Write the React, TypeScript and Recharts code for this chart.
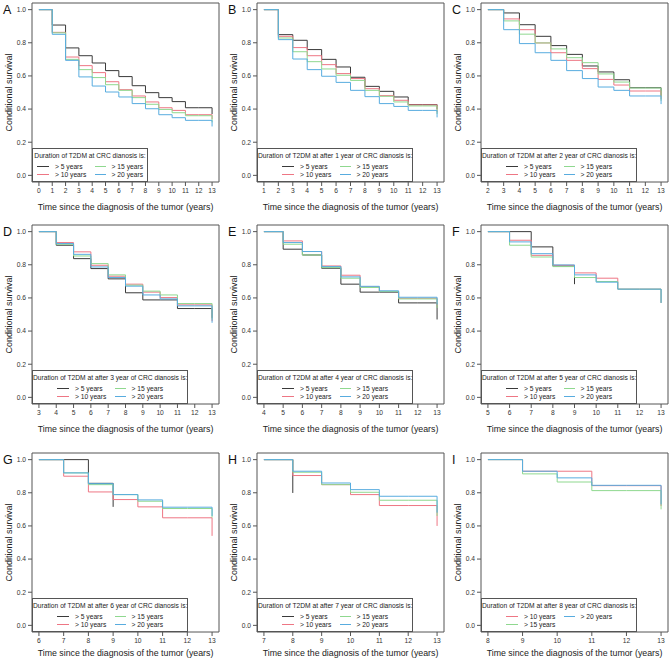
import React from 'react';
import { LineChart, Line, XAxis, YAxis, ReferenceArea } from 'recharts';

// panel layout: 3 x 3 grid of conditional survival curves
const panelLetters = ['A', 'B', 'C', 'D', 'E', 'F', 'G', 'H', 'I'];
const startYears = [0, 1, 2, 3, 4, 5, 6, 7, 8];
const lastYear = 13;
const yTicks = [0, 0.2, 0.4, 0.6, 0.8, 1.0];
const groupLabels = ['> 5 years', '> 10 years', '> 15 years', '> 20 years'];
const groupColors = ['#3a3a3a', '#ee7684', '#8fd88f', '#58acdf'];

// one row per group (>5, >10, >15, >20), one value per year from the panel start to 13
const survA = [
  [1, 0.907, 0.769, 0.722, 0.678, 0.632, 0.596, 0.541, 0.499, 0.469, 0.445, 0.408, 0.408, 0.37],
  [1, 0.863, 0.714, 0.662, 0.62, 0.565, 0.517, 0.479, 0.443, 0.408, 0.392, 0.366, 0.366, 0.34],
  [1, 0.86, 0.7, 0.638, 0.59, 0.547, 0.513, 0.469, 0.429, 0.398, 0.378, 0.36, 0.36, 0.32],
  [1, 0.851, 0.694, 0.594, 0.539, 0.503, 0.473, 0.433, 0.402, 0.366, 0.348, 0.332, 0.332, 0.295],
];
const survB = [
  [1, 0.849, 0.815, 0.759, 0.7, 0.654, 0.592, 0.537, 0.507, 0.473, 0.427, 0.427, 0.4],
  [1, 0.839, 0.771, 0.722, 0.668, 0.614, 0.584, 0.523, 0.481, 0.453, 0.425, 0.425, 0.38],
  [1, 0.829, 0.746, 0.686, 0.642, 0.604, 0.573, 0.513, 0.477, 0.443, 0.419, 0.419, 0.37],
  [1, 0.819, 0.702, 0.638, 0.598, 0.561, 0.513, 0.475, 0.433, 0.416, 0.392, 0.392, 0.35],
];
const survC = [
  [1, 0.98, 0.909, 0.839, 0.783, 0.73, 0.66, 0.624, 0.577, 0.529, 0.529, 0.48],
  [1, 0.944, 0.879, 0.799, 0.74, 0.694, 0.644, 0.579, 0.545, 0.509, 0.509, 0.46],
  [1, 0.932, 0.852, 0.799, 0.763, 0.71, 0.68, 0.612, 0.563, 0.527, 0.527, 0.45],
  [1, 0.879, 0.795, 0.74, 0.694, 0.632, 0.584, 0.533, 0.513, 0.479, 0.479, 0.43],
];
const survD = [
  [1, 0.918, 0.837, 0.777, 0.715, 0.631, 0.588, 0.588, 0.536, 0.536, 0.48],
  [1, 0.934, 0.878, 0.797, 0.731, 0.683, 0.635, 0.602, 0.558, 0.558, 0.46],
  [1, 0.924, 0.853, 0.807, 0.739, 0.677, 0.641, 0.618, 0.566, 0.566, 0.47],
  [1, 0.928, 0.863, 0.787, 0.723, 0.671, 0.618, 0.594, 0.552, 0.552, 0.45],
];
const survE = [
  [1, 0.894, 0.859, 0.779, 0.683, 0.635, 0.635, 0.57, 0.57, 0.47],
  [1, 0.944, 0.88, 0.793, 0.737, 0.667, 0.639, 0.598, 0.598, 0.55],
  [1, 0.924, 0.859, 0.783, 0.719, 0.663, 0.639, 0.594, 0.594, 0.54],
  [1, 0.934, 0.88, 0.789, 0.727, 0.67, 0.643, 0.604, 0.604, 0.56],
];
const survF = [
  [1, 1, 0.908, 0.793, 0.683, null, null, null, null],
  [1, 0.948, 0.857, 0.797, 0.751, 0.719, 0.653, 0.653, 0.57],
  [1, 0.918, 0.847, 0.789, 0.723, 0.699, 0.653, 0.653, 0.57],
  [1, 0.938, 0.867, 0.799, 0.739, 0.695, 0.653, 0.653, 0.57],
];
const survG = [
  [1, 1, 0.857, 0.715, null, null, null, null],
  [1, 0.9, 0.805, 0.759, 0.715, 0.649, 0.649, 0.54],
  [1, 0.92, 0.849, 0.789, 0.749, 0.705, 0.705, 0.65],
  [1, 0.92, 0.855, 0.789, 0.757, 0.713, 0.713, 0.66],
];
const survH = [
  [1, 0.799, null, null, null, null, null],
  [1, 0.904, 0.849, 0.789, 0.723, 0.723, 0.6],
  [1, 0.924, 0.849, 0.803, 0.755, 0.755, 0.66],
  [1, 0.93, 0.859, 0.819, 0.779, 0.779, 0.68],
];
const survI = [
  [],
  [1, 0.93, 0.93, 0.843, 0.843, 0.72],
  [1, 0.914, 0.865, 0.813, 0.813, 0.7],
  [1, 0.93, 0.89, 0.845, 0.845, 0.73],
];
const allSurv: (number | null)[][][] = [survA, survB, survC, survD, survE, survF, survG, survH, survI];

const FONT = '"Liberation Sans", Arial, sans-serif';
const W = 225;
const H = 220;
const BOX_TOP = 3;
const BOX_LEFT = 32;
const BOX_W = 187;
const BOX_H = 179;
const colLeft = [0, 225, 449];
const rowTop = [0, 222, 450];
// the bottom row sits tighter against the page edge
const titleOffset = [10, 10, 14];

function legendTitle(idx: number) {
  if (idx === 0) return 'Duration of T2DM at CRC dianosis is:';
  return `Duration of T2DM at after ${idx} year of CRC dianosis is:`;
}

function PanelLegend({ idx }: { idx: number }) {
  const groups = allSurv[idx].map((s, g) => (s.length ? g : -1)).filter((g) => g >= 0);
  const nRow = Math.ceil(groups.length / 2);
  const cols = [groups.slice(0, nRow), groups.slice(nRow)];
  const width = idx === 0 ? 116 : 156;
  const height = 34;
  return (
    <div
      style={{
        position: 'absolute',
        left: BOX_LEFT,
        top: BOX_TOP + BOX_H - height,
        width,
        height,
        boxSizing: 'border-box',
        border: '1px solid #555',
        background: '#fff',
        fontFamily: FONT,
        fontSize: 6.7,
        color: '#222',
      }}
    >
      <div style={{ position: 'absolute', top: 3, left: 0, right: 0, textAlign: 'center', lineHeight: '8px', whiteSpace: 'nowrap' }}>
        {legendTitle(idx)}
      </div>
      <div style={{ position: 'absolute', top: 13, left: 0, right: 0, display: 'flex', justifyContent: 'center' }}>
        {cols.map((col, c) => (
          <div key={c} style={{ width: c === 0 ? 58 : 48 }}>
            {col.map((g) => (
              <div key={g} style={{ display: 'flex', alignItems: 'center', height: 8, whiteSpace: 'nowrap' }}>
                <span style={{ display: 'inline-block', width: 12, height: 1, background: groupColors[g], marginRight: 6 }} />
                <span>{groupLabels[g]}</span>
              </div>
            ))}
          </div>
        ))}
      </div>
    </div>
  );
}

function Panel({ idx }: { idx: number }) {
  const start = startYears[idx];
  const surv = allSurv[idx];
  const years: number[] = [];
  for (let t = start; t <= lastYear; t++) years.push(t);
  const data = years.map((t, i) => {
    const row: Record<string, number | null> = { t };
    surv.forEach((s, g) => {
      row['g' + g] = s.length ? s[i] : null;
    });
    return row;
  });
  const span = lastYear - start;
  const xDom = [start - 0.04 * span, lastYear + 0.04 * span];
  const yDom = [-0.04, 1.04];
  const left = colLeft[idx % 3];
  const r = Math.floor(idx / 3);
  const top = rowTop[r];

  return (
    <div style={{ position: 'absolute', left, top, width: W, height: H }}>
      <LineChart width={W} height={H} data={data} margin={{ top: BOX_TOP, right: W - BOX_LEFT - BOX_W, bottom: 0, left: 0 }}>
        <XAxis
          type="number"
          dataKey="t"
          domain={xDom}
          ticks={years}
          interval={0}
          allowDataOverflow
          height={H - BOX_TOP - BOX_H}
          axisLine={false}
          tickSize={4}
          tickMargin={2}
          tickLine={{ stroke: '#555' }}
          tick={{ fontSize: 6.7, fill: '#333', fontFamily: FONT }}
          label={{
            value: 'Time since the diagnosis of the tumor (years)',
            position: 'insideBottom',
            offset: titleOffset[r],
            style: { fontSize: 8.8, fill: '#222', fontFamily: FONT },
          }}
        />
        <YAxis
          type="number"
          domain={yDom}
          ticks={yTicks}
          allowDataOverflow
          width={BOX_LEFT}
          axisLine={false}
          tickSize={4}
          tickMargin={2}
          tickLine={{ stroke: '#555' }}
          tickFormatter={(v: number) => v.toFixed(1)}
          tick={{ fontSize: 6.7, fill: '#333', fontFamily: FONT }}
          label={{
            content: () => (
              <text
                transform={`translate(11.5, ${BOX_TOP + BOX_H / 2}) rotate(-90)`}
                textAnchor="middle"
                fontSize={9}
                fill="#222"
                fontFamily={FONT}
              >
                Conditional survival
              </text>
            ),
          }}
        />
        <ReferenceArea
          x1={xDom[0]}
          x2={xDom[1]}
          y1={yDom[0]}
          y2={yDom[1]}
          fill="none"
          fillOpacity={0}
          stroke="#555"
          strokeWidth={1}
          ifOverflow="visible"
        />
        {surv.map((s, g) =>
          s.length ? (
            <Line
              key={g}
              type="stepAfter"
              dataKey={'g' + g}
              stroke={groupColors[g]}
              strokeWidth={1}
              dot={false}
              activeDot={false}
              isAnimationActive={false}
            />
          ) : null
        )}
      </LineChart>
      <PanelLegend idx={idx} />
      <div
        style={{
          position: 'absolute',
          left: 3,
          top: BOX_TOP + 1,
          fontFamily: FONT,
          fontSize: 12.5,
          lineHeight: '12.5px',
          color: '#111',
        }}
      >
        {panelLetters[idx]}
      </div>
    </div>
  );
}

export default function App() {
  return (
    <div style={{ position: 'absolute', left: 0, top: 0, width: 670, height: 661, overflow: 'hidden', background: '#fff' }}>
      {panelLetters.map((_, i) => (
        <Panel key={i} idx={i} />
      ))}
    </div>
  );
}
